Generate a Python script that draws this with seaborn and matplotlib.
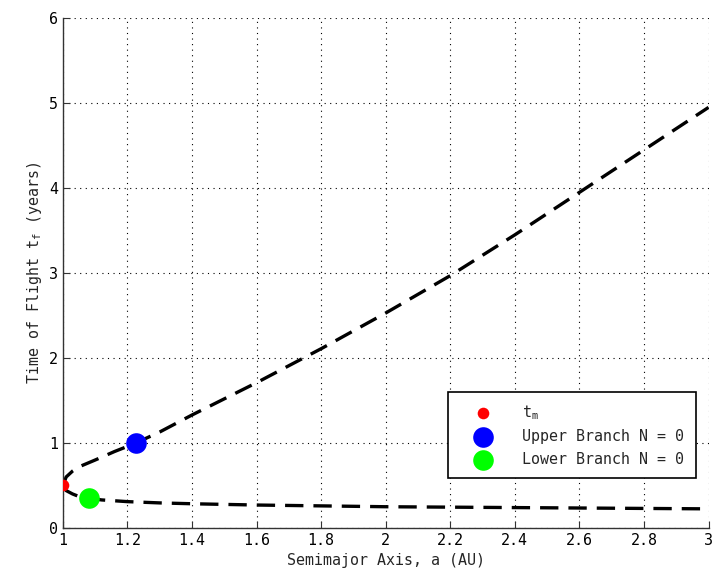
import matplotlib
matplotlib.use("Agg")
import matplotlib.pyplot as plt
import seaborn as sns
import pandas as pd

# Upper branch of the time-of-flight curve (semimajor axis in AU, time in years)
upper_a = [1.0, 1.01, 1.03, 1.05, 1.1, 1.16, 1.22, 1.3, 1.4, 1.5, 1.6, 1.8, 2.0, 2.2, 2.4, 2.6, 2.8, 3.0]
upper_t = [0.5, 0.6, 0.67, 0.72, 0.8, 0.9, 0.99, 1.13, 1.33, 1.52, 1.71, 2.11, 2.53, 2.97, 3.45, 3.95, 4.45, 4.95]

# Lower branch
lower_a = [1.0, 1.01, 1.03, 1.05, 1.08, 1.12, 1.2, 1.3, 1.4, 1.6, 1.8, 2.0, 2.2, 2.4, 2.6, 2.8, 3.0]
lower_t = [0.5, 0.44, 0.4, 0.37, 0.35, 0.33, 0.31, 0.295, 0.285, 0.27, 0.26, 0.25, 0.245, 0.24, 0.235, 0.23, 0.225]

# Highlighted points
tm_a, tm_t = [1.0], [0.5]
up_a, up_t = [1.225], [1.0]
low_a, low_t = [1.08], [0.35]

x_ticks = [1, 1.2, 1.4, 1.6, 1.8, 2, 2.2, 2.4, 2.6, 2.8, 3]
x_tick_labels = ["1", "1.2", "1.4", "1.6", "1.8", "2", "2.2", "2.4", "2.6", "2.8", "3"]
y_ticks = [0, 1, 2, 3, 4, 5, 6]

sns.set_theme(style="white")
plt.rcParams["font.family"] = ["DejaVu Sans Mono"]
plt.rcParams["mathtext.fontset"] = "dejavusans"

FS = 10.8

fig = plt.figure(figsize=(7.15, 5.80), dpi=100)
ax = fig.add_axes([0.088, 0.0897, 0.903, 0.879])

upper = pd.DataFrame({"a": upper_a, "t": upper_t})
lower = pd.DataFrame({"a": lower_a, "t": lower_t})
line_kw = dict(color="black", linewidth=2.4, linestyle=(0, (5.5, 3)), legend=False, estimator=None, sort=False)
sns.lineplot(data=upper, x="a", y="t", ax=ax, **line_kw)
sns.lineplot(data=lower, x="a", y="t", ax=ax, **line_kw)

sns.scatterplot(x=tm_a, y=tm_t, ax=ax, color="#ff0000", s=70, linewidth=0, label="$\\mathregular{t_m}$", zorder=5)
sns.scatterplot(x=up_a, y=up_t, ax=ax, color="#0000ff", s=220, linewidth=0, label="Upper Branch N = 0", zorder=5)
sns.scatterplot(x=low_a, y=low_t, ax=ax, color="#00ff00", s=220, linewidth=0, label="Lower Branch N = 0", zorder=5)

ax.set_xlim(1, 3)
ax.set_ylim(0, 6)
ax.set_xticks(x_ticks)
ax.set_xticklabels(x_tick_labels)
ax.set_yticks(y_ticks)
ax.grid(True, color="black", linestyle=(0, (1, 4)), linewidth=0.8)
ax.spines["top"].set_visible(False)
ax.spines["right"].set_visible(False)
for side in ("left", "bottom"):
    ax.spines[side].set_color("#333333")
    ax.spines[side].set_linewidth(1.0)
ax.tick_params(direction="in", length=5, width=0.8, colors="#333333", labelsize=FS,
               top=False, right=False, bottom=True, left=True, labelcolor="black")

ax.set_xlabel("Semimajor Axis, a (AU)", fontsize=FS)
ax.set_ylabel("Time of Flight $\\mathregular{t_f}$ (years)", fontsize=FS)

leg = ax.legend(loc="lower right", bbox_to_anchor=(0.98, 0.098), frameon=True, fancybox=False,
                edgecolor="black", framealpha=1, fontsize=FS, borderpad=0.75, labelspacing=0.5,
                handlelength=3.2, handletextpad=1.0, borderaxespad=0)
leg.get_frame().set_linewidth(1.2)

fig.savefig("out.png", dpi=100)
